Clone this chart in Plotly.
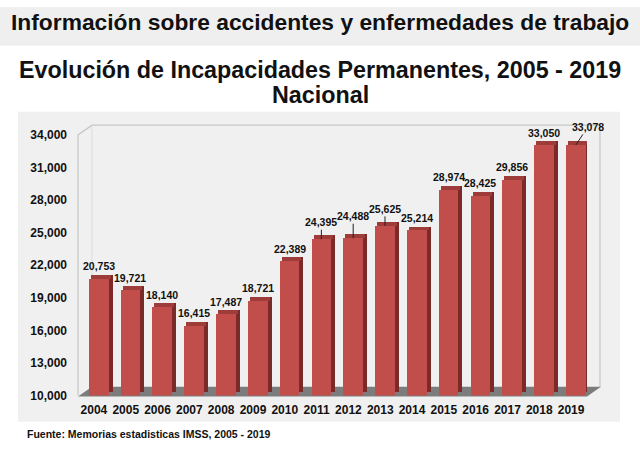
import plotly.graph_objects as go

# ---- data ----
years = list(range(2004, 2020))
values = [20753, 19721, 18140, 16415, 17487, 18721, 22389, 24395,
          24488, 25625, 25214, 28974, 28425, 29856, 33050, 33078]
y_ticks = list(range(10000, 34001, 3000))

# ---- geometry helpers (pixels -> paper) ----
W, H = 640, 452
def px(x):
    return x / W
def py(y):
    return 1 - y / H

X0, X1 = 78, 587          # front floor edge (x axis domain)
Y_TOP, Y_BOT = 132, 401   # y axis domain (front plane)
DEPTH_X, DEPTH_Y = 14, 9  # 3D depth of walls

YMIN, YMAX = 10000, 34000
unit_x = (X1 - X0) / 16.0
unit_y = (YMAX - YMIN) / (Y_BOT - Y_TOP)

bar_off = -0.16
bar_w = 0.62
side_dx = 4 / unit_x
side_dy = 4 * unit_y

FRONT = "#c24e4b"
SIDE = "#7a2b29"
TOP = "#9d3c39"

FONT = "Liberation Sans, Arial"

fig = go.Figure()

# side face
fig.add_trace(go.Bar(
    x=years, y=[v - YMIN for v in values], base=YMIN + side_dy,
    offset=bar_off + side_dx, width=bar_w,
    marker=dict(color=SIDE, line=dict(width=0)), hoverinfo="skip"))
# top face
fig.add_trace(go.Bar(
    x=years, y=[side_dy] * len(values), base=values,
    offset=bar_off + side_dx / 2, width=bar_w,
    marker=dict(color=TOP, line=dict(width=0)), hoverinfo="skip"))
# front face
fig.add_trace(go.Bar(
    x=years, y=[v - YMIN for v in values], base=YMIN,
    offset=bar_off, width=bar_w,
    marker=dict(color=FRONT, line=dict(width=0)),
    hovertemplate="%{x}: %{customdata:,}<extra></extra>", customdata=values))

shapes = []
# title band
shapes.append(dict(type="rect", xref="paper", yref="paper", x0=0, x1=1,
                   y0=py(40), y1=py(0), fillcolor="#efefef", line_width=0, layer="below"))
# chart panel
shapes.append(dict(type="rect", xref="paper", yref="paper", x0=px(18), x1=px(620),
                   y0=py(428), y1=py(108), fillcolor="#f0f0f0", line_width=0, layer="below"))
# back wall outline
wall = "#c6c6c6"
shapes.append(dict(type="path", xref="paper", yref="paper", layer="below",
                   path=(f"M {px(X0)},{py(Y_BOT)} L {px(X0)},{py(Y_TOP)} "
                         f"L {px(X0 + DEPTH_X)},{py(Y_TOP - DEPTH_Y - 1)} "
                         f"L {px(X1 + DEPTH_X - 1)},{py(Y_TOP - DEPTH_Y - 1)} "
                         f"L {px(X1 + DEPTH_X - 1)},{py(Y_BOT - DEPTH_Y)}"),
                   line=dict(color=wall, width=1.2)))
shapes.append(dict(type="line", xref="paper", yref="paper", layer="below",
                   x0=px(X0 + DEPTH_X), x1=px(X0 + DEPTH_X),
                   y0=py(Y_BOT - DEPTH_Y), y1=py(Y_TOP - DEPTH_Y - 1),
                   line=dict(color="#dcdcdc", width=1)))
# floor
shapes.append(dict(type="path", xref="paper", yref="paper", layer="below",
                   path=(f"M {px(X0)},{py(Y_BOT + 1)} L {px(X1)},{py(Y_BOT + 1)} "
                         f"L {px(X1 + DEPTH_X)},{py(Y_BOT - DEPTH_Y)} "
                         f"L {px(X0 + DEPTH_X)},{py(Y_BOT - DEPTH_Y)} Z"),
                   fillcolor="#7c7c7c", line_width=0))

# ---- value labels ----
label_offsets = {2011: (0, -17), 2012: (0, -22), 2013: (0, -17), 2019: (12, -18)}
annotations = []
for yr, v in zip(years, values):
    dx, dy = label_offsets.get(yr, (0, -12.5))
    leader = yr in label_offsets
    annotations.append(dict(
        x=yr + bar_off + bar_w / 2, y=v, xref="x", yref="y",
        text=f"{v:,}", showarrow=True, ax=dx, ay=dy, arrowhead=0,
        arrowwidth=1, standoff=0,
        arrowcolor="#222222" if leader else "rgba(0,0,0,0)",
        font=dict(family=FONT, size=10.5, color="#111111", weight="bold")))

# titles
annotations.append(dict(text="Información sobre accidentes y enfermedades de trabajo",
                        x=0.5, y=py(15), xref="paper", yref="paper", showarrow=False,
                        xanchor="center", yanchor="middle",
                        font=dict(family=FONT, size=22.8, color="#111111", weight="bold")))
annotations.append(dict(text="Evolución de Incapacidades Permanentes, 2005 - 2019",
                        x=0.5, y=py(65), xref="paper", yref="paper", showarrow=False,
                        xanchor="center", yanchor="middle",
                        font=dict(family=FONT, size=23.3, color="#111111", weight="bold")))
annotations.append(dict(text="Nacional",
                        x=0.5, y=py(91), xref="paper", yref="paper", showarrow=False,
                        xanchor="center", yanchor="middle",
                        font=dict(family=FONT, size=23.3, color="#111111", weight="bold")))
annotations.append(dict(text="Fuente: Memorias estadisticas IMSS, 2005 - 2019",
                        x=px(25), y=py(441), xref="paper", yref="paper", showarrow=False,
                        xanchor="left", yanchor="middle",
                        font=dict(family=FONT, size=10.5, color="#111111", weight="bold")))

fig.update_layout(
    width=W, height=H,
    margin=dict(l=0, r=0, t=0, b=0),
    paper_bgcolor="white", plot_bgcolor="rgba(0,0,0,0)",
    showlegend=False, barmode="overlay", bargap=0,
    shapes=shapes, annotations=annotations,
    xaxis=dict(range=[2003.5, 2019.5], domain=[px(X0), px(X1)],
               tickmode="array", tickvals=years, ticktext=[str(y) for y in years],
               showgrid=False, zeroline=False, showline=False, ticks="",
               ticklabelstandoff=5,
               tickfont=dict(family=FONT, size=12, color="#111111", weight="bold"),
               fixedrange=True),
    yaxis=dict(range=[YMIN, YMAX], domain=[py(Y_BOT), py(Y_TOP)],
               tickmode="array", tickvals=y_ticks, tickformat=",",
               showgrid=False, zeroline=False, showline=False, ticks="",
               ticklabelstandoff=10,
               tickfont=dict(family=FONT, size=12, color="#111111", weight="bold"),
               fixedrange=True),
)

fig.write_html("out.html", config={"displayModeBar": False},
               post_script="document.body.style.margin='0';document.body.style.padding='0';")
